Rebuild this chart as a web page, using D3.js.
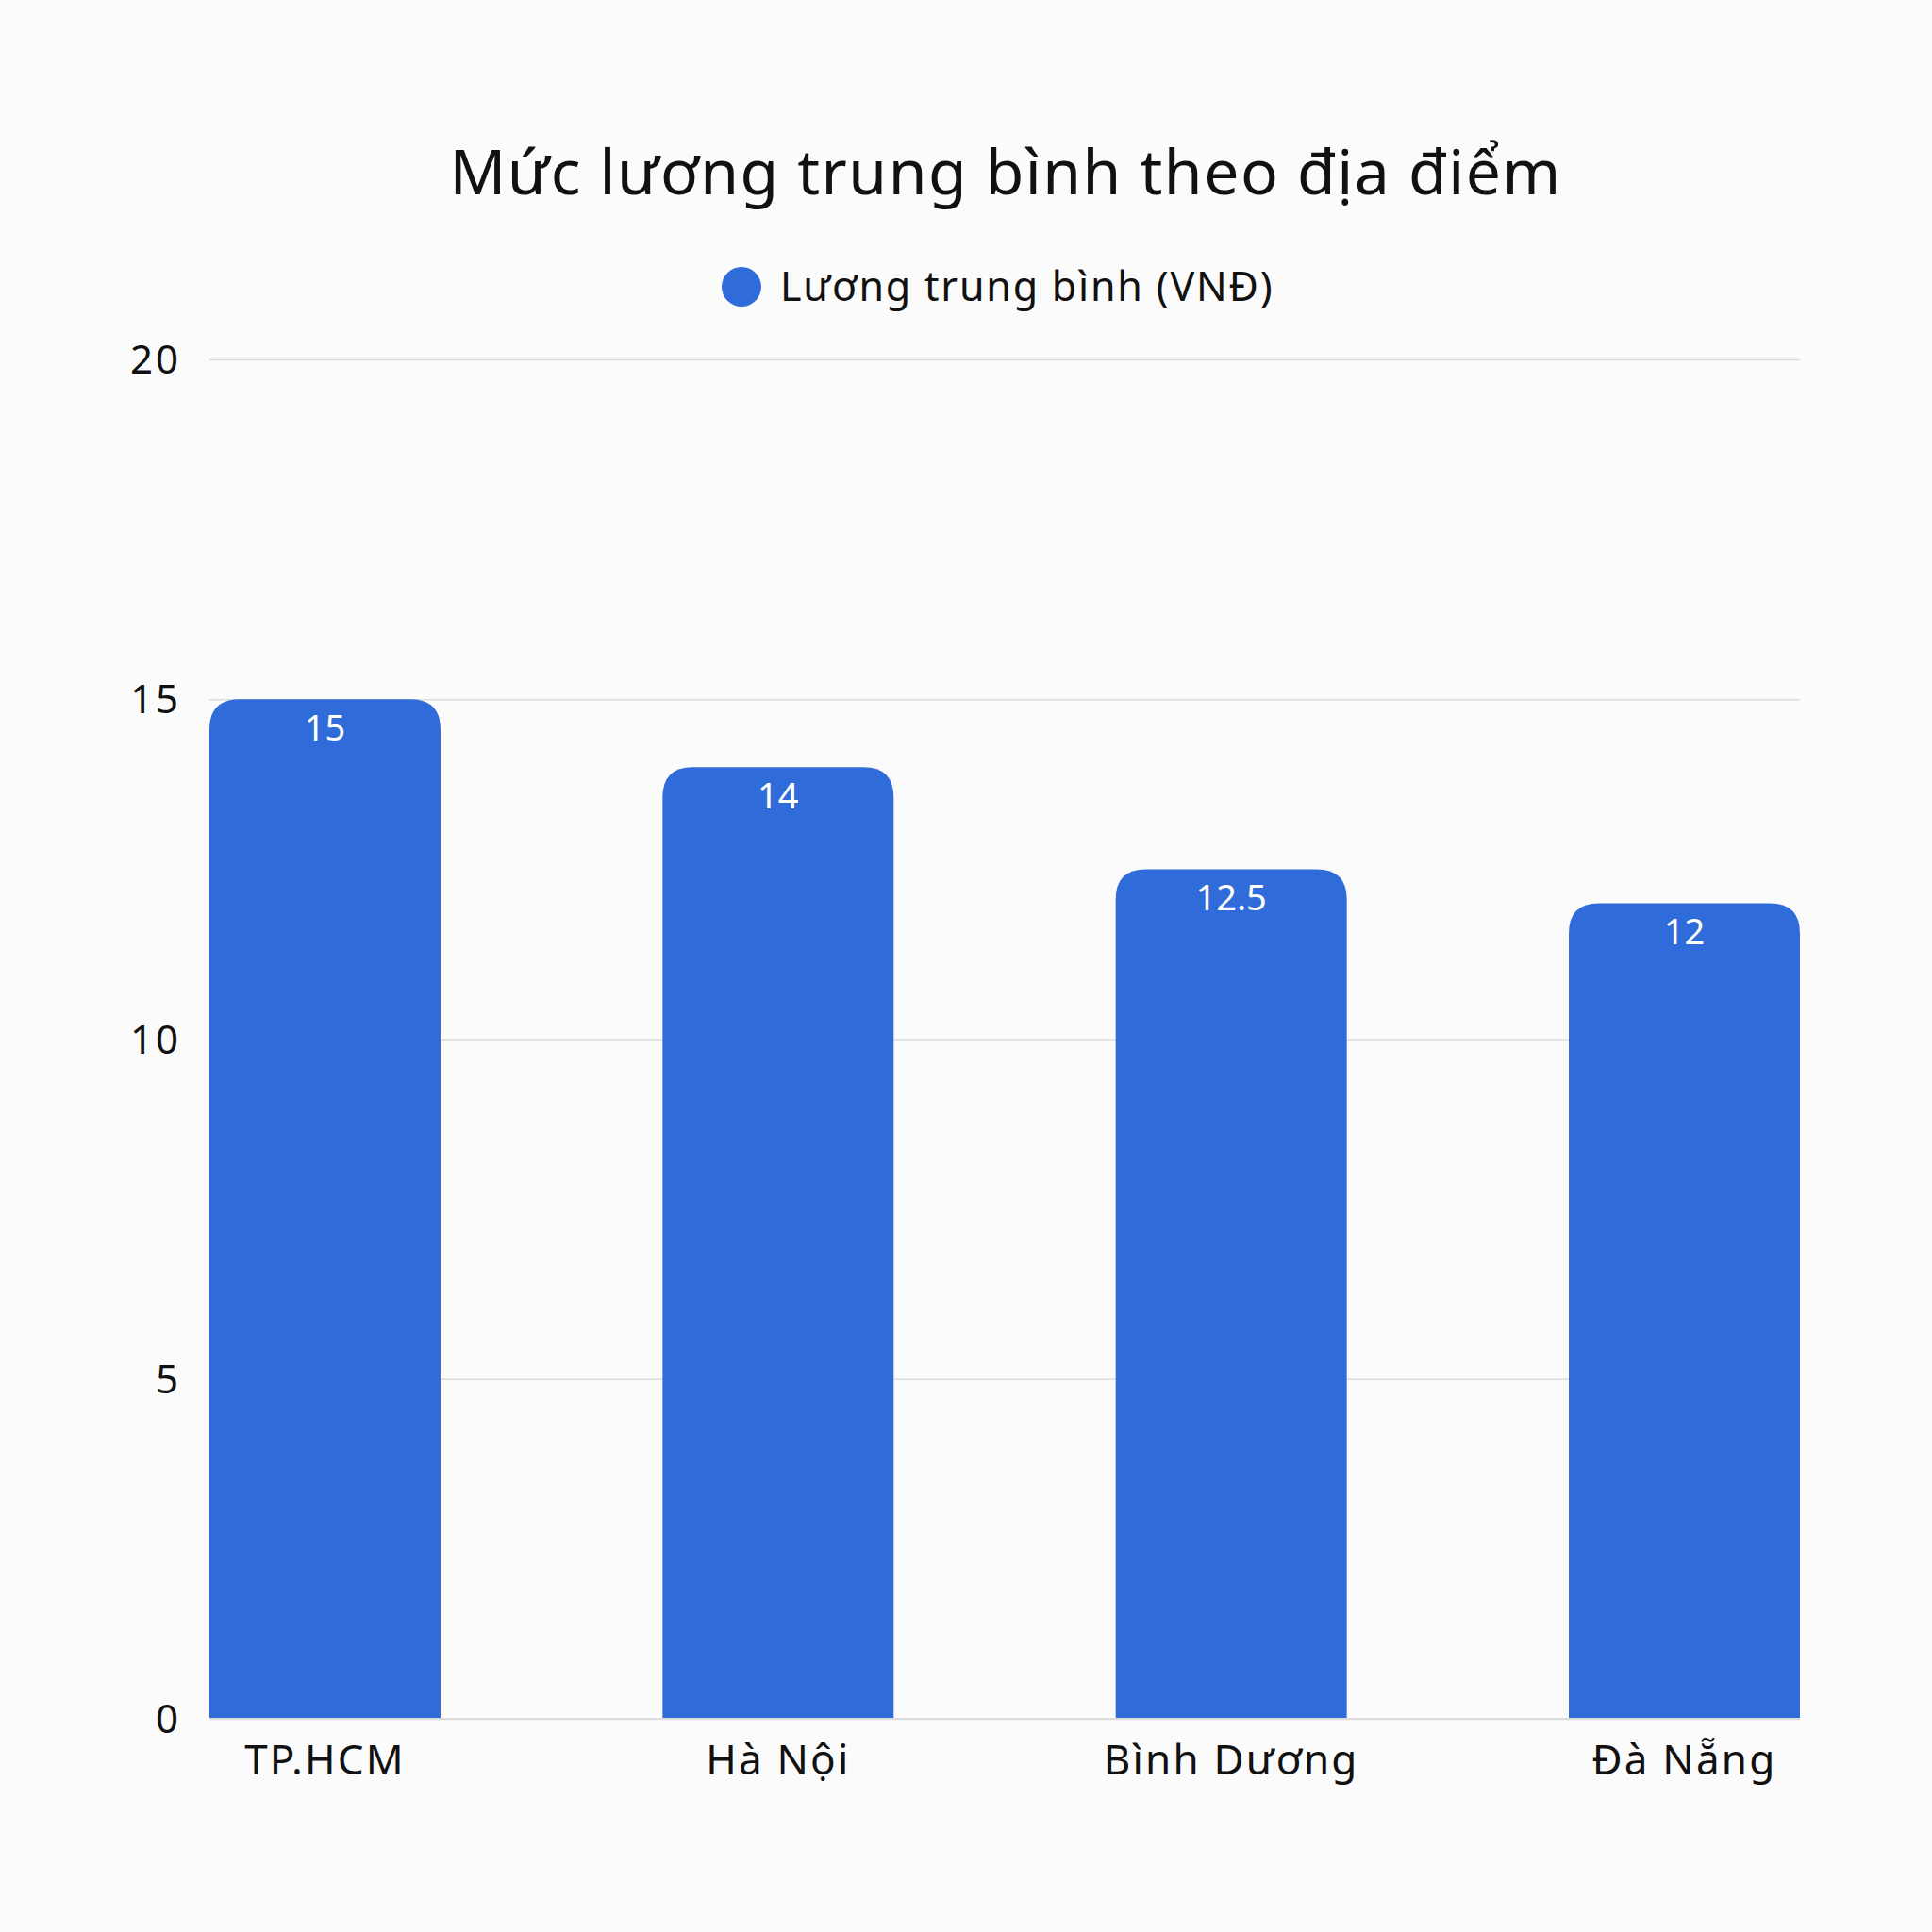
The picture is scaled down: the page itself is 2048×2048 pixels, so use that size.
<!DOCTYPE html>
<html lang="vi">
<head>
    <meta charset="UTF-8">
    <title>Mức lương trung bình theo địa điểm</title>
    <script src="https://d3js.org/d3.v7.min.js"></script>
    <style>
        html, body {
            margin: 0;
            padding: 0;
            background: #fbfbfb;
        }
        svg text {
            font-family: "Noto Sans", "DejaVu Sans", sans-serif;
            fill: #111;
        }
    </style>
</head>
<body>
    <div id="chart"></div>

    <script>
        const title = "Mức lương trung bình theo địa điểm";
        const seriesName = "Lương trung bình (VNĐ)";
        const categories = ["TP.HCM", "Hà Nội", "Bình Dương", "Đà Nẵng"];
        const values = [15, 14, 12.5, 12];
        const yTicks = [0, 5, 10, 15, 20];

        const width = 2048;
        const height = 2048;
        const margin = { top: 381, right: 140, bottom: 226, left: 222 };
        const barColor = "#306cd9";

        const svg = d3.select("#chart").append("svg")
            .attr("width", width)
            .attr("height", height)
            .style("background", "#fbfbfb");

        const x = d3.scaleBand()
            .domain(categories)
            .range([margin.left, width - margin.right])
            .paddingInner(0.49)
            .paddingOuter(0);

        const y = d3.scaleLinear()
            .domain([0, 20])
            .range([height - margin.bottom, margin.top]);

        // title
        svg.append("text")
            .attr("x", width / 2 + 42)
            .attr("y", 206)
            .attr("text-anchor", "middle")
            .style("font-size", "66px")
            .style("letter-spacing", "1.5px")
            .text(title);

        // legend
        const legend = svg.append("g").attr("transform", "translate(786,304)");
        legend.append("circle")
            .attr("r", 21)
            .attr("fill", barColor);
        legend.append("text")
            .attr("x", 41)
            .attr("y", 15)
            .style("font-size", "43px")
            .style("letter-spacing", "1.8px")
            .text(seriesName);

        // grid
        const grid = d3.axisLeft(y)
            .tickValues(yTicks)
            .tickSize(-(width - margin.left - margin.right))
            .tickFormat(d => d);

        const gy = svg.append("g")
            .attr("transform", `translate(${margin.left},0)`)
            .call(grid);
        gy.select(".domain").remove();
        gy.selectAll(".tick line")
            .attr("stroke", "#dcdcdc")
            .attr("stroke-width", 1.5);
        gy.selectAll(".tick text")
            .attr("x", -30)
            .attr("dy", "0.35em")
            .style("font-size", "42px")
            .style("letter-spacing", "3px")
            .style("fill", "#111");

        // bars, rounded on top
        const r = 32;
        svg.append("g")
            .selectAll("path")
            .data(values)
            .join("path")
            .attr("fill", barColor)
            .attr("d", (d, i) => {
                const x0 = x(categories[i]);
                const x1 = x0 + x.bandwidth();
                const y0 = y(0);
                const y1 = y(d);
                return `M${x0},${y0}V${y1 + r}Q${x0},${y1} ${x0 + r},${y1}` +
                    `H${x1 - r}Q${x1},${y1} ${x1},${y1 + r}V${y0}Z`;
            });

        // baseline
        svg.append("line")
            .attr("x1", margin.left)
            .attr("x2", width - margin.right)
            .attr("y1", y(0))
            .attr("y2", y(0))
            .attr("stroke", "#dcdcdc")
            .attr("stroke-width", 2);

        // value labels
        svg.append("g")
            .selectAll("text")
            .data(values)
            .join("text")
            .attr("x", (d, i) => x(categories[i]) + x.bandwidth() / 2)
            .attr("y", d => y(d) + 44)
            .attr("text-anchor", "middle")
            .style("font-size", "38px")
            .style("fill", "#fff")
            .text(d => d);

        // category labels
        svg.append("g")
            .selectAll("text")
            .data(categories)
            .join("text")
            .attr("x", d => x(d) + x.bandwidth() / 2)
            .attr("y", height - margin.bottom + 59)
            .attr("text-anchor", "middle")
            .style("font-size", "44px")
            .style("letter-spacing", "2.2px")
            .text(d => d);
    </script>
</body>
</html>
